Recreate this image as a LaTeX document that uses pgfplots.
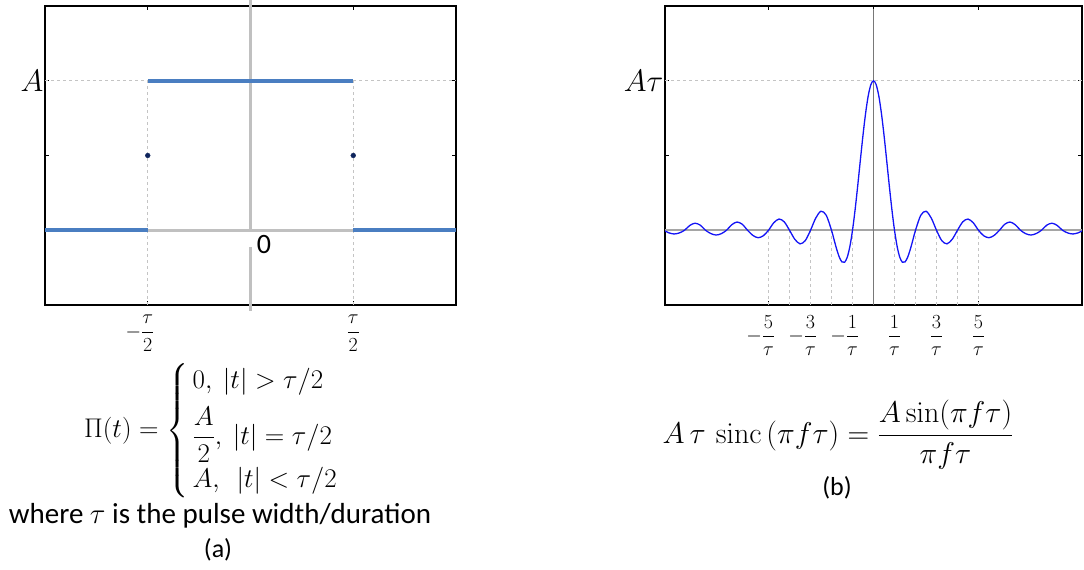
\RequirePackage{fix-cm}
\documentclass[border=0pt]{standalone}
\usepackage{amsmath}
\usepackage[no-math]{fontspec}
\setmainfont{Carlito}
\usepackage{pgfplots}
\pgfplotsset{compat=1.18}
\usepackage{pgfplotstable}

\definecolor{pulseblue}{RGB}{74,126,193}
\definecolor{dotnavy}{RGB}{14,36,92}
\definecolor{axgray}{RGB}{192,192,192}
\definecolor{guide}{RGB}{196,196,196}
\definecolor{zerogray}{RGB}{165,165,165}
\definecolor{centergray}{RGB}{120,120,120}
\definecolor{sincblue}{RGB}{20,20,245}

% spectrum of the rectangular pulse, f in units of 1/tau, value in units of A*tau
\pgfplotstableread{
f v
-10 0
-9.75 -0.017
-9.5 -0.025
-9.25 -0.018
-9 0
-8.75 0.032
-8.5 0.047
-8.25 0.034
-8 0
-7.75 -0.022
-7.5 -0.032
-7.25 -0.023
-7 0
-6.75 0.037
-6.5 0.055
-6.25 0.040
-6 0
-5.75 -0.034
-5.5 -0.050
-5.25 -0.037
-5 0
-4.75 0.050
-4.5 0.075
-4.25 0.056
-4 0
-3.75 -0.060
-3.5 -0.0909
-3.25 -0.0693
-3 0
-2.75 0.0818
-2.5 0.1273
-2.25 0.1000
-2 0
-1.875 -0.0650
-1.75 -0.1286
-1.625 -0.1810
-1.5 -0.2122
-1.375 -0.2139
-1.25 -0.1801
-1.125 -0.1083
-1 0
-0.875 0.1392
-0.75 0.3001
-0.625 0.4705
-0.5 0.6366
-0.375 0.7842
-0.25 0.9003
-0.125 0.9745
0 1.0000
0.125 0.9745
0.25 0.9003
0.375 0.7842
0.5 0.6366
0.625 0.4705
0.75 0.3001
0.875 0.1392
1 0
1.125 -0.1083
1.25 -0.1801
1.375 -0.2139
1.5 -0.2122
1.625 -0.1810
1.75 -0.1286
1.875 -0.0650
2 0
2.25 0.1000
2.5 0.1273
2.75 0.0818
3 0
3.25 -0.0693
3.5 -0.0909
3.75 -0.060
4 0
4.25 0.056
4.5 0.075
4.75 0.050
5 0
5.25 -0.037
5.5 -0.050
5.75 -0.034
6 0
6.25 0.040
6.5 0.055
6.75 0.037
7 0
7.25 -0.023
7.5 -0.032
7.75 -0.022
8 0
8.25 0.034
8.5 0.047
8.75 0.032
9 0
9.25 -0.018
9.5 -0.025
9.75 -0.017
10 0
}\sinctable

\pgfplotsset{
  panel/.style={
    scale only axis,
    anchor=south west,
    height=299pt,
    ymin=-0.5, ymax=1.5,
    ytick={-0.5,0,0.5,1,1.5},
    tick align=inside,
    major tick length=4pt,
    axis line style={line width=1.1pt},
    every tick/.style={black, line width=0.8pt},
    yticklabel style={font=\fontsize{31}{36}\selectfont, inner sep=1.5pt},
    xticklabel style={font=\fontsize{20}{24}\selectfont, inner sep=2pt, yshift=-8pt},
  },
}

\begin{document}
\begin{tikzpicture}
\useasboundingbox (0pt,0pt) rectangle (1084pt,570pt);

% rectangular pulse
\begin{axis}[panel, at={(45pt,265pt)}, width=411pt,
  xmin=-1, xmax=1,
  xtick={-1,-0.5,0,0.5,1},
  xticklabels={,\llap{$-$}$\dfrac{\tau}{2}$,,$\dfrac{\tau}{2}$,},
  yticklabels={,,,$A$,},
  clip=false]
  \addplot[guide, dashed, line width=1pt] coordinates {(-0.5,-0.5) (-0.5,1)};
  \addplot[guide, dashed, line width=1pt] coordinates {(0.5,-0.5) (0.5,1)};
  \addplot[guide, dashed, line width=1pt] coordinates {(-1,1) (-0.5,1)};
  \addplot[guide, dashed, line width=1pt] coordinates {(0.5,1) (1,1)};
  \addplot[axgray, line width=3pt] coordinates {(-0.5,0) (0.5,0)};
  \addplot[axgray, line width=3pt] coordinates {(0,1.54) (0,-0.01)};
  \addplot[axgray, line width=3pt] coordinates {(0,-0.115) (0,-0.54)};
  \addplot[pulseblue, line width=4pt] coordinates {(-1,0) (-0.5,0)};
  \addplot[pulseblue, line width=4pt] coordinates {(-0.5,1) (0.5,1)};
  \addplot[pulseblue, line width=4pt] coordinates {(0.5,0) (1,0)};
  \addplot[only marks, mark=*, mark size=2.4pt, dotnavy] coordinates {(-0.5,0.5) (0.5,0.5)};
  \node[anchor=north west, inner sep=0pt, font=\fontsize{28}{32}\selectfont]
    at (axis cs:0.03,-0.03) {0};
\end{axis}

% its spectrum
\begin{axis}[panel, at={(665pt,265pt)}, width=417pt,
  xmin=-9.93, xmax=9.93,
  xtick={-5,0,5},
  xticklabels={},
  extra x ticks={-5,-3,-1,1,3,5},
  extra x tick labels={\llap{$-$}$\dfrac{5}{\tau}$,\llap{$-$}$\dfrac{3}{\tau}$,\llap{$-$}$\dfrac{1}{\tau}$,$\dfrac{1}{\tau}$,$\dfrac{3}{\tau}$,$\dfrac{5}{\tau}$},
  extra x tick style={major tick length=0pt},
  yticklabels={,,,$A\tau$,}]
  \addplot[guide, dashed, line width=1pt] coordinates {(-9.93,1) (9.93,1)};
  \addplot[guide, dashed, line width=1pt] coordinates {(-5,0) (-5,-0.5)};
  \addplot[guide, dashed, line width=1pt] coordinates {(-4,0) (-4,-0.5)};
  \addplot[guide, dashed, line width=1pt] coordinates {(-3,0) (-3,-0.5)};
  \addplot[guide, dashed, line width=1pt] coordinates {(-2,0) (-2,-0.5)};
  \addplot[guide, dashed, line width=1pt] coordinates {(-1,0) (-1,-0.5)};
  \addplot[guide, dashed, line width=1pt] coordinates {(1,0) (1,-0.5)};
  \addplot[guide, dashed, line width=1pt] coordinates {(2,0) (2,-0.5)};
  \addplot[guide, dashed, line width=1pt] coordinates {(3,0) (3,-0.5)};
  \addplot[guide, dashed, line width=1pt] coordinates {(4,0) (4,-0.5)};
  \addplot[guide, dashed, line width=1pt] coordinates {(5,0) (5,-0.5)};
  \addplot[zerogray, line width=1.5pt] coordinates {(-9.93,0) (9.93,0)};
  \addplot[centergray, line width=0.8pt] coordinates {(0,1.48) (0,-0.5)};
  \addplot[sincblue, line width=1.3pt, smooth] table[x=f, y=v] {\sinctable};
\end{axis}

% definitions under the panels
\node[anchor=west, inner sep=0pt, font=\fontsize{27}{31}\selectfont] at (84pt,139pt)
  {$\Pi(t)=\left\{\renewcommand{\arraystretch}{1.15}\begin{array}{@{\,}l@{}}
     0,\ |t| > \tau/2\\[8pt]
     \dfrac{A}{2},\ |t| = \tau/2\\[3pt]
     A,\ \ |t| < \tau/2
   \end{array}\right.$};
\node[font=\fontsize{29}{34}\selectfont] at (220pt,54pt) {where $\tau$ is the pulse width/duration};
\node[font=\fontsize{26}{30}\selectfont] at (218pt,20pt) {(a)};

\node[font=\fontsize{30}{34}\selectfont] at (838pt,135pt)
  {$A\,\tau\,\operatorname{sinc}\,(\pi f\tau)=\dfrac{A\sin(\pi f\tau)}{\pi f\tau}$};
\node[font=\fontsize{26}{30}\selectfont] at (837pt,82pt) {(b)};
\end{tikzpicture}
\end{document}
